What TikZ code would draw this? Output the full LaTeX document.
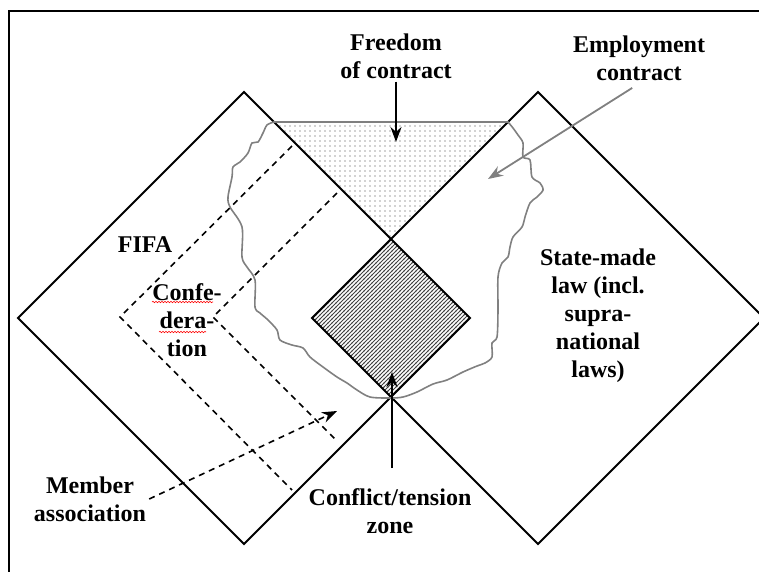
\documentclass[tikz,border=0pt]{standalone}
\usepackage{fontspec}
\setmainfont{Liberation Serif}
\usepackage{tikz}
\usetikzlibrary{arrows.meta}
\usetikzlibrary{patterns}
\usetikzlibrary{decorations.pathmorphing}
\pgfdeclarepatternformonly{sparse dots}{\pgfqpoint{-1pt}{-1pt}}{\pgfqpoint{1pt}{1pt}}{\pgfqpoint{5pt}{5pt}}{\pgfpathcircle{\pgfpointorigin}{.6pt}\pgfusepath{fill}}
\pgfdeclarepatternformonly{fine hatch}{\pgfqpoint{-1pt}{-1pt}}{\pgfqpoint{5pt}{5pt}}{\pgfqpoint{4pt}{4pt}}{\pgfsetlinewidth{.8pt}\pgfpathmoveto{\pgfqpoint{-.5pt}{-.5pt}}\pgfpathlineto{\pgfqpoint{4.5pt}{4.5pt}}\pgfusepath{stroke}}
\tikzstyle{lbl}=[font=\bfseries\fontsize{24}{28}\selectfont, align=center, inner sep=3pt]
\tikzstyle{rim}=[draw, line width=2pt]
\tikzstyle{dsh}=[draw, line width=1.6pt, dash pattern=on 6pt off 5pt]
\tikzstyle{arr}=[draw, line width=1.8pt, -{Stealth[length=15pt,width=11pt]}]
\tikzstyle{blob}=[draw, gray, line width=1.6pt]
\tikzstyle{wavy}=[draw, red, line width=.6pt, decorate, decoration={snake, amplitude=.7pt, segment length=3pt}]

\begin{document}
\begin{tikzpicture}[x=1pt, y=-1pt]
%      \draw [help lines, step=50] (0,0) grid (759,571);
      \useasboundingbox (0,0) rectangle (759,571);
      \clip (0,0) rectangle (759,571);
      \path [rim] (9,11) rectangle (800,600);
      \path [pattern=sparse dots, pattern color=black!75] (274,122) -- (508,122) -- (391,239) -- cycle;
      \path [pattern=fine hatch, pattern color=black!75] (391,239) -- (470,318) -- (391,397) -- (312,318) -- cycle;
      \path [rim] (244,92) -- (470,318) -- (244,544) -- (18,318) -- cycle;
      \path [rim] (538,92) -- (764,318) -- (538,544) -- (312,318) -- cycle;
      \path [dsh] (292,146) -- (120,317) -- (292,490);
      \path [dsh] (337,193) -- (213,317) -- (337,441);
      \path [blob] (274,122) -- plot [smooth, tension=.5] coordinates {(508,122) (513,128) (518,135) (523,143) (523,157) (530,160) (532,177) (540,183) (543,190) (537,197) (530,203) (525,217) (522,227) (513,237) (510,247) (508,257) (502,263) (498,277) (498,310) (497,337) (492,343) (492,357) (485,363) (477,366) (463,372) (447,380) (433,384) (417,392) (403,397) (390,398) (370,397) (357,390) (347,383) (337,377) (323,367) (310,357) (303,348) (292,345) (280,340) (277,330) (268,320) (260,313) (255,307) (255,280) (247,267) (242,257) (242,227) (230,207) (228,197) (232,177) (233,167) (240,162) (248,153) (252,143) (258,142) (263,133) (267,125) (274,122)} -- cycle;
      \node [lbl] (freedom)  at (396,56)  {Freedom\\of contract};
      \node [lbl] (employ)   at (639,58)  {Employment\\contract};
      \node [lbl] (fifa)     at (145,245) {FIFA};
      \node [lbl] (confed)   at (187,320) {Confe-\\dera-\\tion};
      \node [lbl] (state)    at (598,316) {State-made\\law (incl.\\supra-\\national\\laws)};
      \node [lbl] (member)   at (90,499)  {Member\\association};
      \node [lbl] (conflict) at (390,511) {Conflict/tension\\zone};
      \coordinate (fctip) at (396,142);
      \coordinate (ectip) at (488,179);
      \coordinate (matip) at (337,411);
      \coordinate (cttip) at (392,372);
      \path [wavy] (152,302) -- (213,302);
      \path [wavy] (159,332) -- (206,332);
      \path [arr] (freedom.south) -- (fctip);
      \path [arr, gray, shorten <=8pt] (employ.south) -- (ectip);
      \path [arr, dsh] (member.east) -- (matip);
      \path [arr, shorten <=17pt] (conflict.north -| cttip) -- (cttip);
    \end{tikzpicture}
\end{document}
